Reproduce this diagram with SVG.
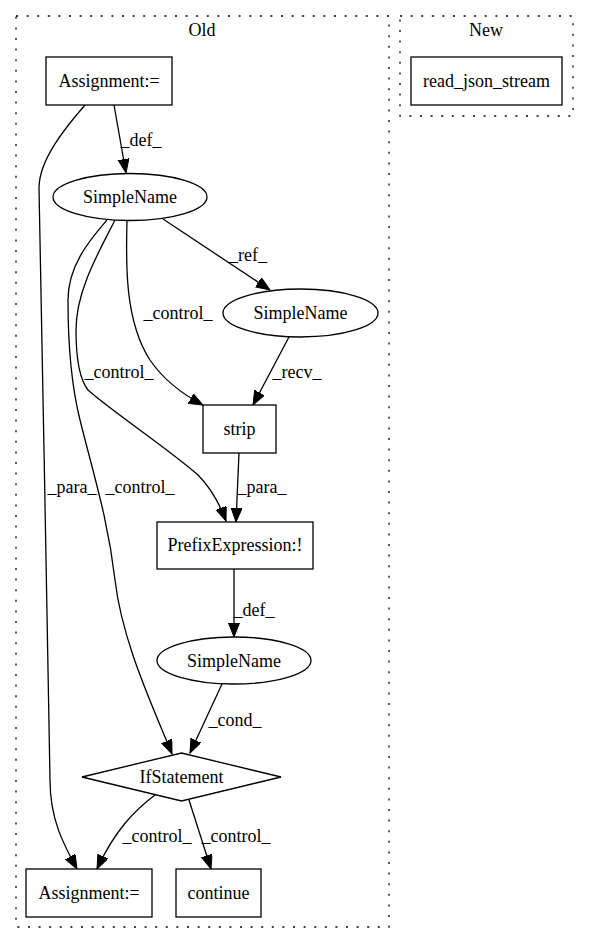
<svg xmlns="http://www.w3.org/2000/svg" width="589" height="944" viewBox="0 0 589 944">
<style>
  text { font-family: "Liberation Serif", "Times New Roman", serif; font-size: 18px; fill: #000; text-anchor: middle; }
  .cluster { fill: none; stroke: #000; stroke-width: 1.3; stroke-dasharray: 2,8.6; }
  .node { fill: #fff; stroke: #000; stroke-width: 1.3; }
  .edge { fill: none; stroke: #000; stroke-width: 1.3; marker-end: url(#arrow); }
</style>
<defs>
  <marker id="arrow" markerUnits="userSpaceOnUse" markerWidth="16" markerHeight="14" refX="14" refY="5.5" orient="auto">
    <path d="M0,0 L14,5.5 L0,11 Z" fill="#000" stroke="#000" stroke-width="1"/>
  </marker>
</defs>
<rect width="589" height="944" fill="#fff"/>
<g id="cluster_old">
  <rect class="cluster" x="16" y="16" width="373" height="911"/>
  <text x="202" y="36">Old</text>
</g>
<g id="cluster_new">
  <rect class="cluster" x="400" y="16" width="173" height="100"/>
  <text x="486" y="36">New</text>
</g>
<g id="edges">
  <path class="edge" d="M114,105 L126,173"/>
  <text x="141" y="146">_def_</text>
  <path class="edge" d="M85,105 C65,128 39,160 39,188 C39,250 50,700 50,780 C50,820 64,845 77,869"/>
  <text x="72" y="493">_para_</text>
  <path class="edge" d="M163,219 L270,290"/>
  <text x="248" y="261">_ref_</text>
  <path class="edge" d="M127,220 C126,260 124,320 150,360 C163,379 182,394 203,405"/>
  <text x="178" y="319">_control_</text>
  <path class="edge" d="M115,220 C100,250 76,290 76,330 C76,360 80,380 88,390 C110,410 170,450 198,475 C210,487 220,505 226,521"/>
  <text x="119" y="378">_control_</text>
  <path class="edge" d="M107,220 C90,240 68,265 68,300 C68,340 70,380 80,420 C95,480 108,520 115,580 C122,640 150,700 172,754"/>
  <text x="140" y="493">_control_</text>
  <path class="edge" d="M289,337 L253,405"/>
  <text x="297" y="378">_recv_</text>
  <path class="edge" d="M239,453 L236,522"/>
  <text x="262" y="493">_para_</text>
  <path class="edge" d="M234,569 L234,637"/>
  <text x="254" y="616">_def_</text>
  <path class="edge" d="M222,684 L190,753"/>
  <text x="235" y="726">_cond_</text>
  <path class="edge" d="M155,795 C135,810 115,830 97,869"/>
  <text x="157" y="842">_control_</text>
  <path class="edge" d="M189,800 L211,869"/>
  <text x="236" y="842">_control_</text>
</g>
<g id="assign_top">
  <rect class="node" x="46" y="57" width="126" height="48"/>
  <text x="109" y="87">Assignment:=</text>
</g>
<g id="read_json_stream">
  <rect class="node" x="411" y="57" width="151" height="48"/>
  <text x="486.5" y="87">read_json_stream</text>
</g>
<g id="simplename1">
  <ellipse class="node" cx="130" cy="197" rx="77" ry="23.5"/>
  <text x="130" y="203">SimpleName</text>
</g>
<g id="simplename2">
  <ellipse class="node" cx="300.5" cy="313" rx="77.5" ry="24"/>
  <text x="300.5" y="319">SimpleName</text>
</g>
<g id="strip">
  <rect class="node" x="203" y="405" width="73" height="48"/>
  <text x="239.5" y="435">strip</text>
</g>
<g id="prefix">
  <rect class="node" x="157" y="522" width="156" height="47"/>
  <text x="235" y="551">PrefixExpression:!</text>
</g>
<g id="simplename3">
  <ellipse class="node" cx="234" cy="660.5" rx="77" ry="23.5"/>
  <text x="234" y="666.5">SimpleName</text>
</g>
<g id="ifstatement">
  <polygon class="node" points="82,777 181.5,753 281,777 181.5,801"/>
  <text x="181.5" y="783">IfStatement</text>
</g>
<g id="assign_bottom">
  <rect class="node" x="26" y="869" width="126" height="48"/>
  <text x="89" y="899">Assignment:=</text>
</g>
<g id="continue">
  <rect class="node" x="176" y="869" width="85" height="48"/>
  <text x="218.5" y="899">continue</text>
</g>
</svg>
